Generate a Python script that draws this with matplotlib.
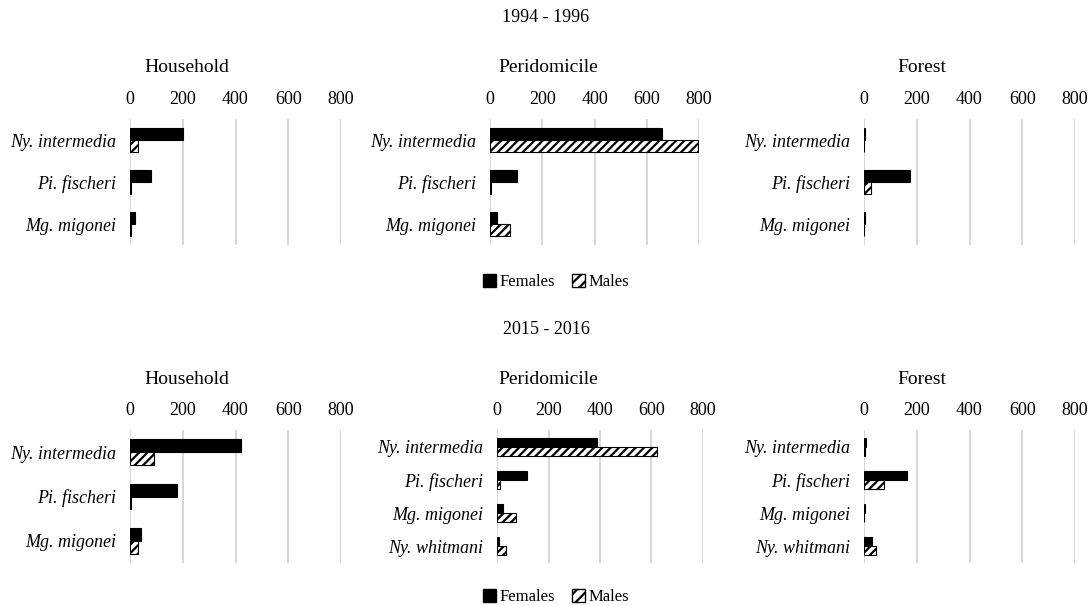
import matplotlib
matplotlib.use("Agg")
import matplotlib.pyplot as plt
from matplotlib.patches import Patch

plt.rcParams['font.family'] = ['Liberation Serif', 'DejaVu Serif']
plt.rcParams['hatch.linewidth'] = 1.6

species_3 = ["Ny. intermedia", "Pi. fischeri", "Mg. migonei"]
species_4 = ["Ny. intermedia", "Pi. fischeri", "Mg. migonei", "Ny. whitmani"]
habitats = ["Household", "Peridomicile", "Forest"]
periods = ["1994 - 1996", "2015 - 2016"]
x_ticks = [0, 200, 400, 600, 800]

# 1994 - 1996
females_94 = {
    "Household": [200, 78, 18],
    "Peridomicile": [660, 102, 25],
    "Forest": [3, 175, 2],
}
males_94 = {
    "Household": [32, 5, 5],
    "Peridomicile": [795, 5, 76],
    "Forest": [1, 28, 1],
}

# 2015 - 2016
females_15 = {
    "Household": [420, 177, 42],
    "Peridomicile": [390, 116, 23, 8],
    "Forest": [6, 163, 2, 30],
}
males_15 = {
    "Household": [91, 2, 29],
    "Peridomicile": [620, 13, 75, 36],
    "Forest": [2, 74, 0, 45],
}
species_15 = {
    "Household": species_3,
    "Peridomicile": species_4,
    "Forest": species_4,
}

W, H = 1092, 606
fig = plt.figure(figsize=(W / 100, H / 100), dpi=100)


def px_axes(x0, x1, y0, y1):
    return fig.add_axes([x0 / W, 1 - y1 / H, (x1 - x0) / W, (y1 - y0) / H])


def draw_panel(ax, labels, fem, mal, bar_h):
    n = len(labels)
    ys = list(range(n))
    ax.barh([y - bar_h / 2 for y in ys], fem, height=bar_h,
            color="black", edgecolor="black", linewidth=0.8)
    ax.barh([y + bar_h / 2 for y in ys], mal, height=bar_h,
            color="white", edgecolor="black", hatch="////", linewidth=0.8)
    ax.set_ylim(n - 0.5, -0.5)
    ax.set_xlim(0, 800)
    ax.set_xticks(x_ticks)
    ax.set_yticks(ys)
    ax.set_yticklabels(labels, fontstyle="italic", fontsize=13)
    ax.xaxis.tick_top()
    ax.tick_params(axis="both", length=0, labelsize=13)
    ax.tick_params(axis="x", pad=8)
    ax.tick_params(axis="y", pad=10)
    ax.grid(axis="x", color="#d0d0d0", linewidth=1.2)
    ax.set_axisbelow(True)
    for s in ax.spines.values():
        s.set_visible(False)


axes_x = {"Household": (130, 341), "Peridomicile": (490, 699), "Forest": (864, 1075)}
axes_x15 = {"Household": (130, 341), "Peridomicile": (497, 703), "Forest": (864, 1075)}
title_x = {"Household": 187, "Peridomicile": 548, "Forest": 922}

# top row
for hab in habitats:
    x0, x1 = axes_x[hab]
    ax = px_axes(x0, x1, 119, 245)
    draw_panel(ax, species_3, females_94[hab], males_94[hab], 0.29)
    fig.text(title_x[hab] / W, 1 - 67 / H, hab, ha="center", va="center", fontsize=14)

# bottom row
for hab in habitats:
    x0, x1 = axes_x15[hab]
    ax = px_axes(x0, x1, 430, 563)
    labels = species_15[hab]
    draw_panel(ax, labels, females_15[hab], males_15[hab],
               0.29 if len(labels) == 3 else 0.27)
    fig.text(title_x[hab] / W, 1 - 380 / H, hab, ha="center", va="center", fontsize=14)

fig.text(546 / W, 1 - 18 / H, periods[0], ha="center", va="center", fontsize=13)
fig.text(546 / W, 1 - 330 / H, periods[1], ha="center", va="center", fontsize=13)

handles = [
    Patch(facecolor="black", edgecolor="black", label="Females"),
    Patch(facecolor="white", edgecolor="black", hatch="///", label="Males"),
]
for y in (282, 597):
    fig.legend(handles=handles, loc="center", bbox_to_anchor=(556 / W, 1 - y / H),
               ncol=2, frameon=False, fontsize=12, handlelength=0.8,
               handleheight=0.8, handletextpad=0.2, columnspacing=1.0)

fig.savefig("out.png", dpi=100)
